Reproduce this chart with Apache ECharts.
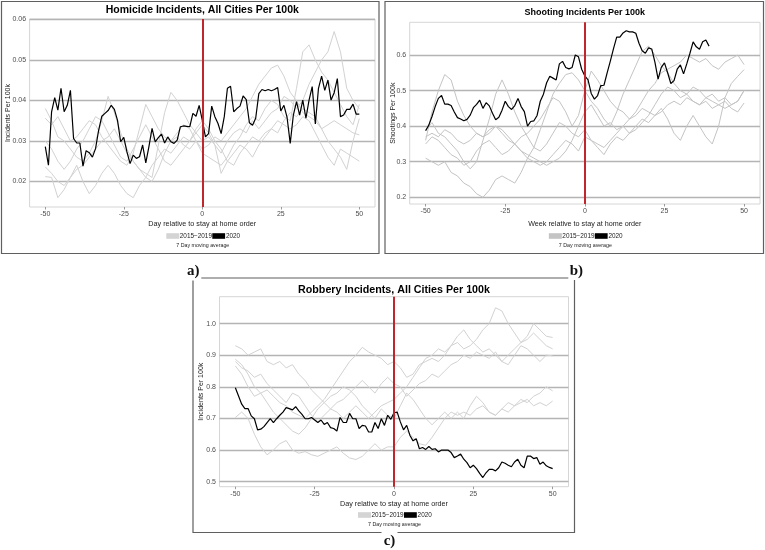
<!DOCTYPE html>
<html>
<head>
<meta charset="utf-8">
<script src="https://cdn.jsdelivr.net/npm/echarts@6/dist/echarts.min.js"></script>
<style>html,body{margin:0;padding:0;background:#fff;}#c{width:765px;height:550px;}</style>
</head>
<body>
<div id="c"></div>
<script>
// ---------- Data ----------
const X_TICKS = [-50, -25, 0, 25, 50];
const HOM_Y_TICKS = [0.02, 0.03, 0.04, 0.05, 0.06];
const SHOOT_Y_TICKS = [0.2, 0.3, 0.4, 0.5, 0.6];
const ROB_Y_TICKS = [0.5, 0.6, 0.7, 0.8, 0.9, 1.0];
const LEGEND_LABELS = ['2015\u22122019', '2020'];

// Homicide 2020, daily from day -50 to 50
const HOM_2020 = [0.0286,0.0240,0.0372,0.0407,0.0376,0.0430,0.0372,0.0388,0.0425,0.0306,
0.0295,0.0295,0.0238,0.0276,0.0271,0.0260,0.0281,0.0327,0.0361,0.0368,
0.0375,0.0388,0.0378,0.0351,0.0298,0.0309,0.0273,0.0244,0.0265,0.0257,
0.0261,0.0290,0.0246,0.0286,0.0331,0.0298,0.0308,0.0317,0.0295,0.0310,
0.0298,0.0294,0.0302,0.0335,0.0337,0.0336,0.0335,0.0368,0.0361,0.0388,
0.0351,
0.0310,0.0318,0.0386,0.0360,0.0343,0.0318,0.0360,0.0430,0.0435,0.0372,
0.0380,0.0386,0.0411,0.0402,0.0345,0.0339,0.0356,0.0417,0.0427,0.0424,
0.0427,0.0424,0.0427,0.0432,0.0374,0.0388,0.0358,0.0294,0.0364,0.0397,
0.0364,0.0401,0.0356,0.0401,0.0434,0.0342,0.0430,0.0460,0.0425,0.0450,
0.0401,0.0419,0.0454,0.0360,0.0364,0.0378,0.0378,0.0391,0.0366,0.0366];
// Homicide 2015-2019, every 2 days from -50 to 50
const HOM_PRIOR_1 = [0.038,0.035,0.031,0.030,0.028,0.026,0.025,0.027,0.030,0.035,0.041,0.037,0.032,0.028,0.025,0.023,0.021,0.020,0.023,0.027,0.030,0.032,0.034,0.033,0.030,0.028,
0.029,0.031,0.030,0.032,0.034,0.036,0.038,0.041,0.044,0.046,0.048,0.0487,0.046,0.042,0.040,0.037,0.036,0.035,0.033,0.034,0.035,0.034,0.033,0.032,0.0315];
const HOM_PRIOR_2 = [0.0356,0.034,0.036,0.033,0.030,0.031,0.033,0.035,0.034,0.031,0.029,0.027,0.025,0.024,0.027,0.033,0.039,0.036,0.033,0.031,0.030,0.031,0.029,0.028,0.030,0.027,
0.026,0.025,0.024,0.026,0.029,0.031,0.034,0.036,0.035,0.038,0.040,0.039,0.036,0.035,0.043,0.052,0.0537,0.050,0.047,0.045,0.042,0.039,0.036,0.034,0.039];
const HOM_PRIOR_3 = [0.0236,0.022,0.020,0.019,0.021,0.023,0.024,0.026,0.028,0.030,0.031,0.033,0.030,0.027,0.025,0.023,0.022,0.021,0.029,0.037,0.042,0.040,0.037,0.034,0.032,0.030,
0.031,0.029,0.027,0.030,0.032,0.033,0.032,0.035,0.033,0.035,0.037,0.038,0.041,0.040,0.038,0.040,0.044,0.047,0.050,0.052,0.057,0.052,0.043,0.040,0.038];
const HOM_PRIOR_4 = [0.0212,0.021,0.016,0.018,0.021,0.024,0.020,0.017,0.019,0.022,0.024,0.022,0.019,0.017,0.016,0.019,0.021,0.024,0.026,0.028,0.027,0.029,0.031,0.030,0.033,0.035,
0.033,0.030,0.028,0.025,0.024,0.027,0.029,0.031,0.030,0.032,0.033,0.035,0.034,0.033,0.034,0.036,0.035,0.032,0.029,0.026,0.024,0.028,0.027,0.026,0.025];
const HOM_PRIOR_5 = [0.030,0.028,0.025,0.023,0.025,0.028,0.030,0.033,0.036,0.035,0.032,0.029,0.026,0.025,0.028,0.031,0.034,0.031,0.028,0.025,0.024,0.026,0.028,0.030,0.032,0.034,
0.032,0.029,0.022,0.025,0.027,0.029,0.028,0.026,0.029,0.031,0.033,0.032,0.035,0.037,0.036,0.038,0.037,0.036,0.033,0.030,0.028,0.026,0.023,0.030,0.0355];

// Shooting 2020, daily from -50 to 39
const SHOOT_2020 = [0.387,0.403,0.427,0.455,0.478,0.486,0.462,0.462,0.458,0.440,
0.424,0.420,0.415,0.419,0.431,0.452,0.461,0.473,0.450,0.466,
0.457,0.436,0.418,0.425,0.445,0.470,0.455,0.447,0.458,0.478,
0.455,0.441,0.400,0.413,0.415,0.430,0.470,0.490,0.522,0.540,
0.535,0.530,0.575,0.582,0.565,0.561,0.565,0.600,0.595,0.560,
0.541,0.530,0.492,0.476,0.486,0.514,0.515,0.550,0.583,0.618,
0.650,0.650,0.662,0.668,0.665,0.665,0.661,0.633,0.612,0.605,
0.620,0.617,0.580,0.532,0.565,0.578,0.550,0.520,0.528,0.560,
0.572,0.547,0.575,0.605,0.637,0.623,0.616,0.637,0.642,0.625];
const SHOOT_PRIOR_1 = [0.36,0.44,0.50,0.545,0.53,0.47,0.43,0.40,0.38,0.37,0.38,0.40,0.39,0.37,0.35,0.33,0.32,0.31,0.30,0.29,0.30,0.31,0.33,0.36,0.40,0.44,
0.46,0.43,0.40,0.41,0.39,0.40,0.38,0.40,0.42,0.41,0.43,0.44,0.46,0.47,0.46,0.48,0.47,0.46,0.48,0.47,0.46,0.47,0.45,0.44,0.465];
const SHOOT_PRIOR_2 = [0.31,0.30,0.29,0.30,0.27,0.26,0.24,0.23,0.21,0.20,0.22,0.25,0.26,0.25,0.24,0.27,0.31,0.34,0.39,0.44,0.49,0.52,0.545,0.55,0.53,0.50,
0.47,0.45,0.42,0.40,0.44,0.49,0.53,0.57,0.61,0.625,0.60,0.57,0.55,0.52,0.50,0.49,0.47,0.46,0.47,0.45,0.46,0.45,0.46,0.47,0.50];
const SHOOT_PRIOR_3 = [0.39,0.41,0.38,0.37,0.35,0.33,0.30,0.28,0.30,0.36,0.42,0.49,0.53,0.49,0.44,0.40,0.37,0.34,0.33,0.35,0.38,0.41,0.40,0.38,0.37,0.39,
0.36,0.35,0.34,0.36,0.38,0.40,0.42,0.44,0.47,0.50,0.52,0.55,0.56,0.57,0.58,0.60,0.59,0.58,0.59,0.57,0.56,0.58,0.59,0.60,0.573];
const SHOOT_PRIOR_4 = [0.35,0.37,0.36,0.34,0.32,0.31,0.29,0.30,0.33,0.35,0.36,0.34,0.32,0.33,0.35,0.37,0.38,0.40,0.42,0.45,0.48,0.47,0.44,0.40,0.43,0.50,
0.555,0.53,0.50,0.47,0.45,0.44,0.42,0.43,0.45,0.44,0.43,0.45,0.42,0.38,0.36,0.40,0.43,0.40,0.37,0.35,0.40,0.48,0.52,0.54,0.559];
const SHOOT_PRIOR_5 = [0.37,0.38,0.37,0.39,0.38,0.36,0.35,0.36,0.38,0.37,0.39,0.40,0.38,0.36,0.35,0.33,0.31,0.30,0.29,0.30,0.32,0.34,0.36,0.35,0.33,0.37,
0.36,0.34,0.32,0.35,0.37,0.36,0.38,0.39,0.41,0.43,0.46,0.49,0.51,0.50,0.48,0.49,0.51,0.50,0.48,0.49,0.47,0.48,0.46,0.47,0.50];

// Robbery 2020, daily from -50 to 50
const ROB_2020 = [0.797,0.771,0.745,0.731,0.731,0.708,0.699,0.664,0.666,0.674,
0.687,0.699,0.687,0.699,0.710,0.720,0.734,0.731,0.727,0.737,
0.724,0.713,0.699,0.699,0.703,0.695,0.687,0.695,0.681,0.687,
0.671,0.668,0.660,0.703,0.687,0.687,0.716,0.699,0.699,0.668,
0.678,0.676,0.657,0.657,0.687,0.668,0.699,0.678,0.710,0.697,
0.718,
0.720,0.689,0.664,0.678,0.647,0.629,0.636,0.604,0.608,0.602,
0.611,0.602,0.604,0.594,0.600,0.600,0.600,0.592,0.576,0.581,
0.587,0.571,0.560,0.544,0.552,0.541,0.526,0.513,0.528,0.539,
0.539,0.534,0.544,0.562,0.558,0.552,0.547,0.562,0.571,0.552,
0.544,0.581,0.581,0.573,0.576,0.555,0.562,0.550,0.545,0.541];
const ROB_PRIOR_1 = [0.93,0.92,0.90,0.91,0.92,0.88,0.87,0.88,0.86,0.87,0.84,0.82,0.79,0.77,0.75,0.73,0.72,0.70,0.72,0.74,0.72,0.70,0.72,0.74,0.75,0.76,
0.78,0.80,0.83,0.86,0.89,0.90,0.92,0.91,0.93,0.94,0.92,0.93,0.95,0.98,1.00,1.05,1.04,1.00,0.97,0.94,0.95,0.97,0.95,0.93,0.92];
const ROB_PRIOR_2 = [0.887,0.87,0.84,0.80,0.78,0.79,0.77,0.75,0.74,0.72,0.71,0.70,0.72,0.74,0.76,0.79,0.82,0.85,0.88,0.90,0.925,0.91,0.90,0.89,0.87,0.88,
0.86,0.83,0.84,0.87,0.88,0.89,0.88,0.90,0.93,0.96,0.98,0.95,0.93,0.91,0.92,0.90,0.88,0.90,0.92,0.94,0.96,1.00,0.98,0.96,0.956];
const ROB_PRIOR_3 = [0.703,0.72,0.70,0.65,0.61,0.585,0.60,0.62,0.63,0.60,0.59,0.595,0.585,0.58,0.59,0.60,0.61,0.59,0.575,0.57,0.58,0.60,0.62,0.60,0.61,0.61,
0.64,0.66,0.64,0.62,0.615,0.64,0.67,0.70,0.72,0.71,0.72,0.71,0.73,0.74,0.72,0.71,0.73,0.75,0.74,0.76,0.75,0.77,0.78,0.80,0.787];
const ROB_PRIOR_4 = [0.866,0.84,0.80,0.77,0.78,0.75,0.72,0.70,0.68,0.66,0.65,0.67,0.70,0.73,0.75,0.77,0.78,0.80,0.79,0.77,0.74,0.72,0.70,0.73,0.71,0.70,
0.74,0.78,0.76,0.73,0.70,0.68,0.70,0.72,0.70,0.72,0.70,0.74,0.77,0.75,0.72,0.71,0.73,0.72,0.74,0.75,0.76,0.74,0.75,0.74,0.755];
const ROB_PRIOR_5 = [0.88,0.86,0.85,0.83,0.84,0.81,0.79,0.77,0.75,0.78,0.77,0.74,0.71,0.69,0.71,0.73,0.75,0.76,0.78,0.80,0.82,0.80,0.78,0.81,0.83,0.81,
0.80,0.77,0.79,0.81,0.82,0.84,0.83,0.85,0.87,0.88,0.90,0.89,0.91,0.90,0.89,0.91,0.88,0.87,0.90,0.93,0.92,0.90,0.88,0.90,0.898];

// ---------- Layout ----------
const FONT = '"Liberation Sans", Arial, Helvetica, sans-serif';
const SERIF = '"Liberation Serif", "DejaVu Serif", serif';
const PANELS = [
  { grid: {left: 29.6, top: 19, width: 345.4, height: 188}, ymin: 0.0137, ymax: 0.0601, yt: HOM_Y_TICKS, dec: 2,
    black: HOM_2020, gray: [HOM_PRIOR_1,HOM_PRIOR_2,HOM_PRIOR_3,HOM_PRIOR_4,HOM_PRIOR_5], grayColor: '#d2d2d2',
    title: 'Homicide Incidents, All Cities Per 100k', titleSize: 10.5, titleY: 10.3,
    xTitle: 'Day relative to stay at home order', yTitle: 'Incidents Per 100k', yTitleX: 8.5,
    box: [1.5, 1.5, 377.5, 252], legendY: 236, noteY: 246, xTitleY: 224 },
  { grid: {left: 409.7, top: 22.3, width: 350.3, height: 181.7}, ymin: 0.1812, ymax: 0.6919, yt: SHOOT_Y_TICKS, dec: 1,
    black: SHOOT_2020, gray: [SHOOT_PRIOR_1,SHOOT_PRIOR_2,SHOOT_PRIOR_3,SHOOT_PRIOR_4,SHOOT_PRIOR_5], grayColor: '#c4c4c4',
    title: 'Shooting Incidents Per 100k', titleSize: 9, titleY: 12.3,
    xTitle: 'Week relative to stay at home order', yTitle: 'Shootings Per 100k', yTitleX: 393,
    box: [385, 1.5, 378.5, 252], legendY: 236, noteY: 246, xTitleY: 224 },
  { grid: {left: 219.5, top: 296.7, width: 349, height: 190}, ymin: 0.484, ymax: 1.085, yt: ROB_Y_TICKS, dec: 1,
    black: ROB_2020, gray: [ROB_PRIOR_1,ROB_PRIOR_2,ROB_PRIOR_3,ROB_PRIOR_4,ROB_PRIOR_5], grayColor: '#d2d2d2',
    title: 'Robbery Incidents, All Cities Per 100k', titleSize: 10.7, titleY: 290,
    xTitle: 'Day relative to stay at home order', yTitle: 'Incidents Per 100k', yTitleX: 201.5,
    box: [193, 278, 381.5, 254.5], legendY: 515, noteY: 524.5, xTitleY: 504.3 }
];

const grids = [], xAxes = [], yAxes = [], series = [], graphics = [];
PANELS.forEach((p, gi) => {
  grids.push(Object.assign({show: true, borderColor: '#d6d6d6', borderWidth: 1, backgroundColor: 'transparent', containLabel: false}, p.grid));
  xAxes.push({type: 'value', gridIndex: gi, min: -55, max: 55,
    axisLine: {show: false}, splitLine: {show: false},
    axisTick: {show: true, customValues: X_TICKS, length: 2.5, lineStyle: {color: '#9a9a9a'}},
    axisLabel: {customValues: X_TICKS, fontSize: 7, color: '#4d4d4d', margin: 3.5, fontFamily: FONT}});
  yAxes.push({type: 'value', gridIndex: gi, min: p.ymin, max: p.ymax,
    axisLine: {show: false}, splitLine: {show: false},
    axisTick: {show: true, customValues: p.yt, length: 2.5, lineStyle: {color: '#9a9a9a'}},
    axisLabel: {customValues: p.yt, fontSize: 7, color: '#4d4d4d', margin: 3.5, fontFamily: FONT,
      formatter: v => Number(v).toFixed(p.dec)}});
  p.gray.forEach((arr, k) => {
    const s = {type: 'line', xAxisIndex: gi, yAxisIndex: gi, silent: true, animation: false,
      showSymbol: false, symbol: 'none', z: 2,
      data: arr.map((v, i) => [-50 + 2 * i, v]),
      lineStyle: {color: p.grayColor, width: 1}};
    if (k === 0) {
      s.markLine = {silent: true, animation: false, z: 1, symbol: ['none', 'none'], label: {show: false},
        lineStyle: {color: '#b4b4b4', width: 1.4, type: 'solid'},
        data: p.yt.map(v => ({yAxis: v}))};
    }
    series.push(s);
  });
  series.push({type: 'line', xAxisIndex: gi, yAxisIndex: gi, silent: true, animation: false,
    showSymbol: false, symbol: 'none', z: 3,
    data: p.black.map((v, i) => [-50 + i, v]),
    lineStyle: {color: '#000', width: 1.2},
    markLine: {silent: true, animation: false, symbol: ['none', 'none'], label: {show: false},
      lineStyle: {color: '#c0272d', width: 2, type: 'solid'}, data: [{xAxis: 0}]}});

  const cx = p.grid.left + p.grid.width / 2;
  const cy = p.grid.top + p.grid.height / 2;
  graphics.push({type: 'rect', shape: {x: p.box[0], y: p.box[1], width: p.box[2], height: p.box[3]},
    style: {fill: 'none', stroke: '#5f5f5f', lineWidth: 1.2}, z: 100});
  graphics.push({type: 'text', x: cx, y: p.titleY, z: 100,
    style: {text: p.title, font: 'bold ' + p.titleSize + 'px ' + FONT, fill: '#000', textAlign: 'center', textVerticalAlign: 'middle'}});
  graphics.push({type: 'text', x: cx, y: p.xTitleY, z: 100,
    style: {text: p.xTitle, font: '7.2px ' + FONT, fill: '#222', textAlign: 'center', textVerticalAlign: 'middle'}});
  graphics.push({type: 'text', x: p.yTitleX, y: cy, rotation: Math.PI / 2, z: 100,
    style: {text: p.yTitle, font: '7px ' + FONT, fill: '#222', textAlign: 'center', textVerticalAlign: 'middle'}});
  graphics.push({type: 'rect', shape: {x: cx - 36, y: p.legendY - 2.8, width: 13, height: 5.6}, style: {fill: gi === 1 ? '#c4c4c4' : '#d4d4d4'}, z: 100});
  graphics.push({type: 'text', x: cx - 22.5, y: p.legendY, z: 100,
    style: {text: LEGEND_LABELS[0], font: '6.4px ' + FONT, fill: '#222', textAlign: 'left', textVerticalAlign: 'middle'}});
  graphics.push({type: 'rect', shape: {x: cx + 10, y: p.legendY - 2.8, width: 12.8, height: 5.6}, style: {fill: '#000'}, z: 100});
  graphics.push({type: 'text', x: cx + 23.6, y: p.legendY, z: 100,
    style: {text: LEGEND_LABELS[1], font: '6.4px ' + FONT, fill: '#222', textAlign: 'left', textVerticalAlign: 'middle'}});
  graphics.push({type: 'text', x: cx + 0.5, y: p.noteY, z: 100,
    style: {text: '7 Day moving average', font: '5.3px ' + FONT, fill: '#222', textAlign: 'center', textVerticalAlign: 'middle'}});
});

[['a)', 193.3, 271.5], ['b)', 576.3, 271], ['c)', 389.5, 541]].forEach(([t, x, y]) => {
  graphics.push({type: 'rect', shape: {x: x - 8, y: y - 9, width: 16, height: 18}, style: {fill: '#fff'}, z: 110});
  graphics.push({type: 'text', x: x, y: y, z: 111,
    style: {text: t, font: 'bold 15px ' + SERIF, fill: '#111', textAlign: 'center', textVerticalAlign: 'middle'}});
});

const chart = echarts.init(document.getElementById('c'), null, {renderer: 'canvas'});
chart.setOption({
  animation: false,
  backgroundColor: '#fff',
  grid: grids, xAxis: xAxes, yAxis: yAxes, series: series,
  graphic: graphics
});
</script>
</body>
</html>
